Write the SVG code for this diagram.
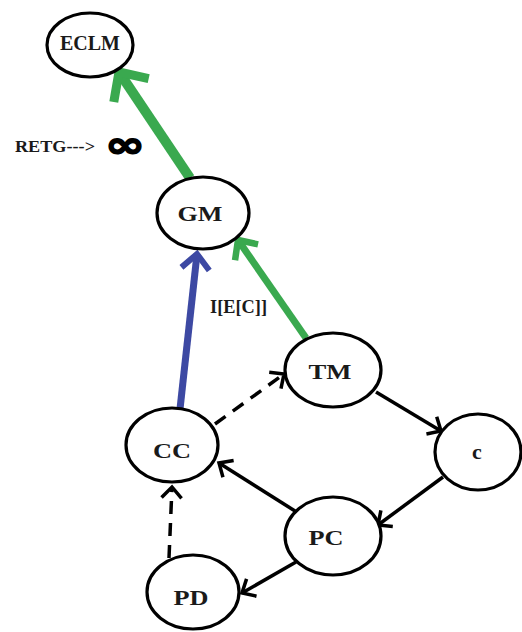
<svg xmlns="http://www.w3.org/2000/svg" width="522" height="632" viewBox="0 0 522 632">
<style>
.node ellipse{fill:#ffffff;stroke:#000000;stroke-width:3.2}
.lbl{font-family:"Liberation Serif","Times New Roman",serif;font-weight:bold;font-size:22px;fill:#1a1a1a;text-anchor:middle}
.edge{fill:none;stroke-linecap:butt}
.blk{stroke:#000000;stroke-width:3.5}
.dash{stroke-dasharray:13 9}
.grn{stroke:#3aa94f}
.blu{stroke:#3d49a3}
</style>
<defs>
<marker id="ahBlk" markerUnits="userSpaceOnUse" orient="auto" markerWidth="40" markerHeight="40" refX="0" refY="0" overflow="visible">
<path d="M-11,-10 L0,0 L-11,10" fill="none" stroke="#000000" stroke-width="3.5" stroke-dasharray="none"/>
</marker>
<marker id="ahGrnBig" markerUnits="userSpaceOnUse" orient="auto" markerWidth="60" markerHeight="60" refX="0" refY="0" overflow="visible">
<path d="M-22,-21 L0,0 L-22,21" fill="none" stroke="#3aa94f" stroke-width="9"/>
</marker>
<marker id="ahGrn" markerUnits="userSpaceOnUse" orient="auto" markerWidth="50" markerHeight="50" refX="0" refY="0" overflow="visible">
<path d="M-15,-14 L0,0 L-15,14" fill="none" stroke="#3aa94f" stroke-width="6.5"/>
</marker>
<marker id="ahBlu" markerUnits="userSpaceOnUse" orient="auto" markerWidth="50" markerHeight="50" refX="0" refY="0" overflow="visible">
<path d="M-15,-14 L0,0 L-15,14" fill="none" stroke="#3d49a3" stroke-width="6"/>
</marker>
</defs>
<rect x="0" y="0" width="522" height="632" fill="#ffffff"/>

<g id="connectors">
<line class="edge grn" x1="190" y1="178" x2="119" y2="72" stroke-width="10" marker-end="url(#ahGrnBig)"/>
<line class="edge grn" x1="306" y1="338" x2="238" y2="240" stroke-width="7" marker-end="url(#ahGrn)"/>
<line class="edge blu" x1="180" y1="409" x2="197" y2="254" stroke-width="7" marker-end="url(#ahBlu)"/>
<line class="edge blk dash" x1="215" y1="424" x2="284" y2="374" marker-end="url(#ahBlk)"/>
<line class="edge blk" x1="376" y1="392" x2="441" y2="431" marker-end="url(#ahBlk)"/>
<line class="edge blk" x1="443" y1="477" x2="378" y2="525" marker-end="url(#ahBlk)"/>
<line class="edge blk" x1="295" y1="511" x2="219" y2="463" marker-end="url(#ahBlk)"/>
<line class="edge blk" x1="296" y1="562" x2="242" y2="593" marker-end="url(#ahBlk)"/>
<line class="edge blk dash" x1="169" y1="558" x2="172" y2="487" marker-end="url(#ahBlk)"/>
</g>

<g id="node-ECLM" class="node">
<ellipse cx="90" cy="45" rx="43" ry="32"/>
<text class="lbl" x="90" y="50" textLength="60" lengthAdjust="spacingAndGlyphs">ECLM</text>
</g>
<g id="node-GM" class="node">
<ellipse cx="203" cy="213" rx="46" ry="36"/>
<text class="lbl" x="200" y="221" textLength="45" lengthAdjust="spacingAndGlyphs">GM</text>
</g>
<g id="node-TM" class="node">
<ellipse cx="333" cy="370" rx="48" ry="37"/>
<text class="lbl" x="330" y="379" textLength="43" lengthAdjust="spacingAndGlyphs">TM</text>
</g>
<g id="node-c" class="node">
<ellipse cx="478" cy="452" rx="43" ry="38"/>
<text class="lbl" x="477" y="459">c</text>
</g>
<g id="node-PC" class="node">
<ellipse cx="333" cy="536" rx="48" ry="39"/>
<text class="lbl" x="326" y="545" textLength="35" lengthAdjust="spacingAndGlyphs">PC</text>
</g>
<g id="node-PD" class="node">
<ellipse cx="193" cy="592" rx="46" ry="37"/>
<text class="lbl" x="191" y="605" textLength="35" lengthAdjust="spacingAndGlyphs">PD</text>
</g>
<g id="node-CC" class="node">
<ellipse cx="172" cy="445" rx="46" ry="37"/>
<text class="lbl" x="172" y="458" textLength="38" lengthAdjust="spacingAndGlyphs">CC</text>
</g>

<g id="labels" font-family="Liberation Serif, Times New Roman, serif" font-weight="bold" fill="#1a1a1a">
<text x="15" y="152" font-size="16" textLength="80" lengthAdjust="spacingAndGlyphs">RETG---&gt;</text>
<text x="105" y="157" font-family="DejaVu Sans, sans-serif" font-size="36" textLength="40" lengthAdjust="spacingAndGlyphs" fill="#000000" stroke="#000000" stroke-width="1.5">∞</text>
<text x="210" y="313" font-size="18" textLength="57" lengthAdjust="spacingAndGlyphs">I[E[C]]</text>
</g>
</svg>
